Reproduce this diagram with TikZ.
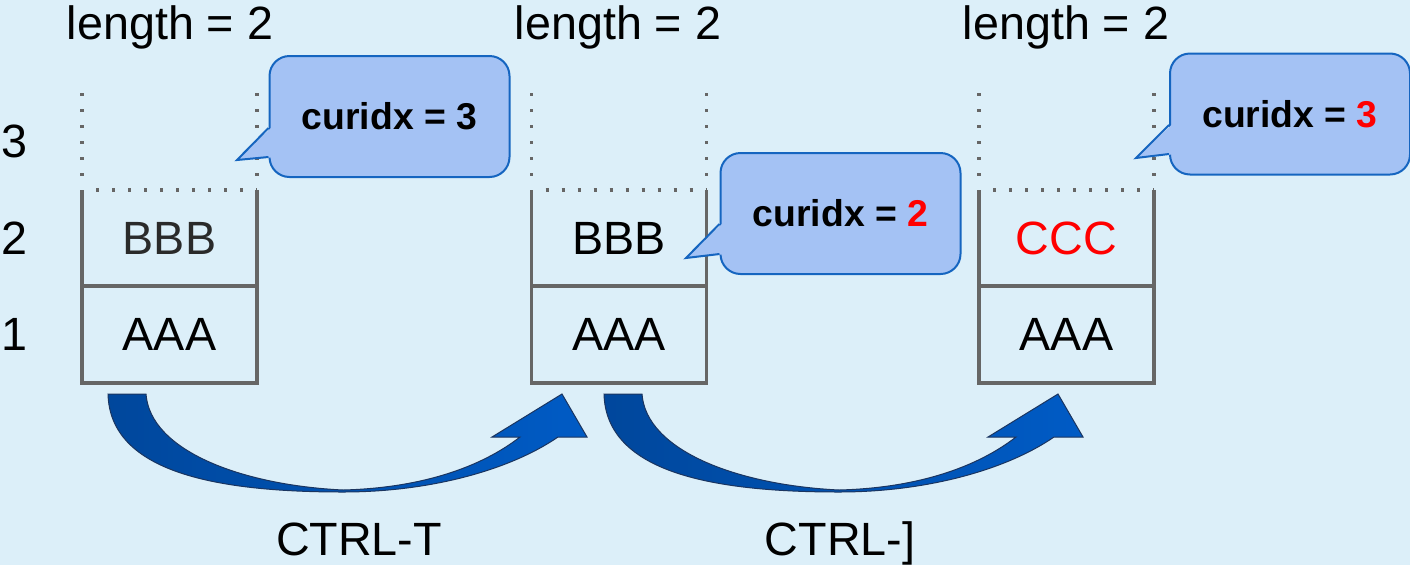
\documentclass[tikz,border=0pt]{standalone}
\usepackage{fontspec}
\setmainfont{Liberation Sans}
\usetikzlibrary{calc}
\definecolor{bg}{HTML}{DCEFF9}
\definecolor{gridc}{HTML}{666666}
\definecolor{callfill}{HTML}{A4C2F4}
\definecolor{callline}{HTML}{1565C0}
\definecolor{arrdark}{HTML}{00479C}
\definecolor{arrlight}{HTML}{005BC5}
\definecolor{arredge}{HTML}{1B3560}
\definecolor{hl}{HTML}{FF0000}
\definecolor{dimtext}{HTML}{2A2A2A}
\begin{document}
\begin{tikzpicture}[x=0.75pt,y=-0.75pt,
  big/.style={font=\fontsize{35}{40}\selectfont, inner sep=0pt},
  cell/.style={big, minimum width=131.25pt, minimum height=72.75pt, outer sep=0pt},
  solidline/.style={draw=gridc, line width=2.5pt},
  dotline/.style={draw=gridc, line width=2.5pt, dash pattern=on 2.5pt off 9.5pt},
  callout/.style={draw=callline, fill=callfill, line width=1.5pt, rounded corners=15pt,
    minimum width=180pt, minimum height=90.75pt,
    font=\bfseries\fontsize{28}{32}\selectfont, inner sep=0pt},
  pointer/.style={draw=callline, line width=1.5pt, line join=miter},
  bigarrow/.style={draw=arredge, line width=0.75pt, left color=arrdark, right color=arrlight}
]
\fill[bg] (0,0) rectangle (1410,565);
\useasboundingbox (0,0) rectangle (1410,565);

% top labels
\node[big, anchor=base] (len1) at (170,39) {length = 2};
\node[big, anchor=base] (len2) at (618,39) {length = 2};
\node[big, anchor=base] (len3) at (1066,39) {length = 2};

% row numbers
\node[big] (r3) at (14,141.5) {3};
\node[big] (r2) at (14,238.5) {2};
\node[big] (r1) at (14,334.5) {1};

% stacks
\foreach \n/\cx/\btxt in {1/169.5/{\textcolor{dimtext}{BBB}}, 2/619/{BBB}, 3/1066.5/{\textcolor{hl}{CCC}}}{
  \node[cell] (s\n a) at (\cx,334.5) {AAA};
  \node[cell] (s\n b) at (\cx,238.5) {\btxt};
  \node[cell] (s\n c) at (\cx,141.5) {};
  \draw[solidline, line join=miter] (s\n b.north west) -- (s\n a.south west) -- (s\n a.south east) -- (s\n b.north east);
  \draw[solidline] (s\n a.north west) -- (s\n a.north east);
  \draw[dotline] ($(s\n b.north west)+(14,0)$) -- (s\n b.north east);
  \draw[dotline] (s\n c.north west) -- ($(s\n c.south west)+(0,-2)$);
  \draw[dotline] (s\n c.north east) -- ($(s\n c.south east)+(0,-2)$);
}

% callouts
\node[callout] (k1) at (389.5,116.5) {curidx = 3};
\coordinate (p1) at (237,160);
\fill[callfill] ($(k1.west)+(3,11)$) -- (p1) -- ($(k1.west)+(3,41)$) -- cycle;
\draw[pointer] ($(k1.west)+(0,11.5)$) -- (p1) -- ($(k1.west)+(0,40.5)$);

\node[callout] (k2) at (840.5,213.5) {curidx = \textcolor{hl}{2}};
\coordinate (p2) at (686,258);
\fill[callfill] ($(k2.west)+(3,10)$) -- (p2) -- ($(k2.west)+(3,41)$) -- cycle;
\draw[pointer] ($(k2.west)+(0,10.5)$) -- (p2) -- ($(k2.west)+(0,40.5)$);

\node[callout] (k3) at (1290,114) {curidx = \textcolor{hl}{3}};
\coordinate (p3) at (1136,158);
\fill[callfill] ($(k3.west)+(3,10.5)$) -- (p3) -- ($(k3.west)+(3,40.5)$) -- cycle;
\draw[pointer] ($(k3.west)+(0,11)$) -- (p3) -- ($(k3.west)+(0,40)$);

% curved block arrows
\foreach \dx in {0,496}{
  \begin{scope}[shift={(\dx,0)}]
  \draw[bigarrow] (108,394) .. controls (110,470) and (210,492) .. (343,492)
     .. controls (430,492) and (510,470) .. (558,437)
     -- (587,437) -- (562,394) -- (492,437) -- (520,437)
     .. controls (480,468) and (420,488) .. (343,490)
     .. controls (240,485) and (150,450) .. (146,394) -- cycle;
  \end{scope}
}

% arrow labels
\node[big, anchor=base] (l1) at (359,555) {CTRL-T};
\node[big, anchor=base] (l2) at (840,555) {CTRL-]};
\end{tikzpicture}
\end{document}
